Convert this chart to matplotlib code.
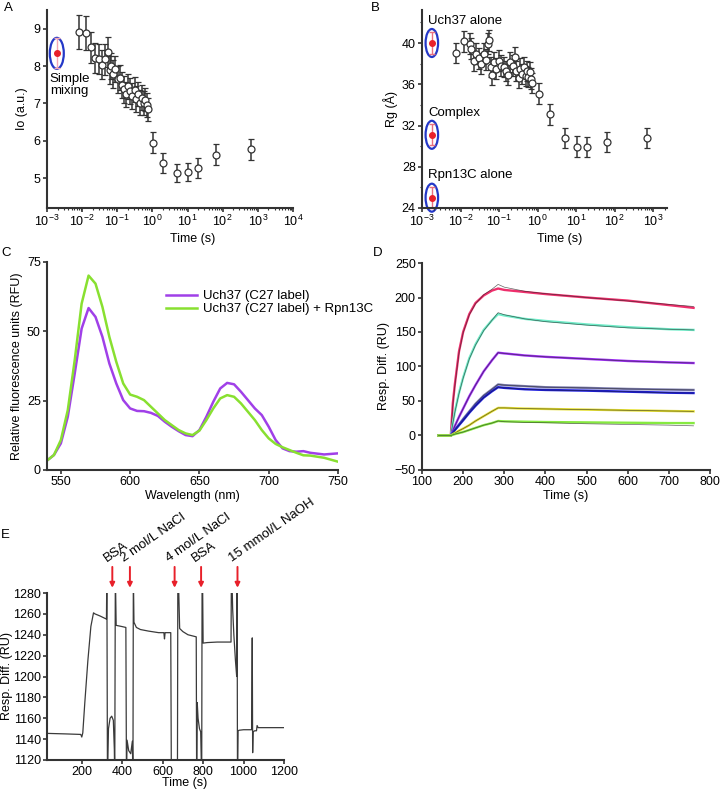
import matplotlib
matplotlib.use("Agg")
import matplotlib.pyplot as plt
from matplotlib.patches import Ellipse
from matplotlib.transforms import ScaledTranslation
from matplotlib.ticker import LogLocator, MultipleLocator, NullFormatter

plt.rcParams['font.family'] = ['Liberation Sans', 'DejaVu Sans']
plt.rcParams['font.size'] = 9

# ---- panel A: Io vs time ----
a_time = [0.0083, 0.0131, 0.0178, 0.0229, 0.0295, 0.0372, 0.0457, 0.0537, 0.0603,
          0.0676, 0.0759, 0.0871, 0.102, 0.117, 0.135, 0.158, 0.182, 0.200, 0.234,
          0.269, 0.309, 0.347, 0.398, 0.457, 0.501, 0.562, 0.631, 0.708, 0.759,
          1.04, 2.0, 5.1, 10.0, 20.0, 63.0, 620.0]
a_io = [8.91, 8.89, 8.5, 8.22, 8.2, 8.04, 8.18, 8.38, 7.9, 8.0, 7.78, 7.91, 7.64,
        7.69, 7.5, 7.38, 7.24, 7.46, 7.33, 7.2, 7.37, 7.11, 7.24, 7.02, 7.15, 7.02,
        7.1, 6.95, 6.84, 5.95, 5.41, 5.14, 5.16, 5.28, 5.63, 5.77]
a_err = [0.45, 0.45, 0.42, 0.4, 0.4, 0.38, 0.42, 0.4, 0.38, 0.36, 0.38, 0.35, 0.36,
         0.34, 0.35, 0.36, 0.34, 0.33, 0.35, 0.34, 0.33, 0.35, 0.32, 0.34, 0.33, 0.32,
         0.3, 0.32, 0.3, 0.28, 0.27, 0.25, 0.25, 0.27, 0.28, 0.28]
a_ref_time = 0.0019
a_ref_io = 8.34
a_ref_err = 0.4

# ---- panel B: Rg vs time ----
b_time = [0.00776, 0.0123, 0.0178, 0.0182, 0.0224, 0.0257, 0.0302, 0.0347, 0.0398,
          0.0447, 0.0513, 0.055, 0.0603, 0.0676, 0.0741, 0.0851, 0.1, 0.115, 0.135,
          0.155, 0.17, 0.195, 0.229, 0.257, 0.282, 0.324, 0.355, 0.407, 0.447, 0.49,
          0.537, 0.575, 0.631, 0.661, 0.724, 1.12, 2.14, 5.25, 10.7, 19.5, 64.6, 676.0]
b_rg = [39.03, 40.16, 39.94, 39.45, 38.26, 38.97, 38.5, 38.0, 38.97, 38.4, 39.94,
        40.26, 37.68, 36.9, 38.16, 37.5, 38.3, 37.8, 37.68, 37.3, 36.9, 38.16, 37.8,
        38.6, 37.3, 36.65, 37.5, 37.0, 37.68, 36.8, 37.3, 36.7, 37.2, 36.55, 36.13,
        35.1, 33.08, 30.8, 29.95, 29.9, 30.4, 30.8]
b_err = [1.0, 1.0, 1.0, 1.0, 1.0, 1.0, 1.0, 1.0, 1.0, 1.0, 1.0, 1.0, 1.0, 1.0,
         1.0, 1.0, 1.0, 1.0, 1.0, 1.0, 1.0, 1.0, 1.0, 1.0, 1.0, 1.0, 1.0, 1.0,
         1.0, 1.0, 1.0, 1.0, 1.0, 1.0, 1.0, 1.0, 1.0, 1.0, 1.0, 1.0, 1.0, 1.0]
b_ref_time = 0.0018
b_ref_rg = [40.0, 31.1, 25.0]
b_ref_err = [1.05, 1.0, 1.0]
b_ref_labels = ['Uch37 alone', 'Complex', 'Rpn13C alone']

# ---- panel C: emission spectra ----
c_wl = [540, 545, 550, 555, 560, 565, 570, 575, 580, 585, 590, 595, 600, 605, 610,
        615, 620, 625, 630, 635, 640, 645, 650, 655, 660, 665, 670, 675, 680, 685,
        690, 695, 700, 705, 710, 715, 720, 725, 730, 740, 750]
c_uch37 = [3.4, 5.4, 9.6, 19.2, 34.8, 51.0, 58.4, 55.2, 48.0, 38.4, 31.2, 25.2, 22.2,
           21.3, 21.2, 20.6, 19.5, 17.4, 15.6, 14.0, 12.6, 12.2, 14.4, 19.2, 24.6,
           29.4, 31.4, 30.9, 28.2, 25.2, 22.2, 19.8, 15.6, 10.8, 7.8, 6.8, 6.6, 6.8,
           6.2, 5.6, 6.0]
c_complex = [3.4, 5.4, 10.8, 21.6, 39.6, 60.0, 70.1, 67.2, 58.8, 48.0, 39.0, 31.2,
             27.2, 26.4, 25.2, 22.8, 20.4, 18.0, 16.2, 14.4, 13.2, 12.6, 14.2, 18.0,
             22.2, 25.8, 27.0, 26.4, 24.0, 21.0, 18.0, 14.4, 11.4, 9.4, 8.2, 7.2, 6.2,
             5.3, 5.2, 4.4, 3.0]
c_labels = ['Uch37 (C27 label)', 'Uch37 (C27 label) + Rpn13C']

# ---- panel D: SPR sensorgrams (data and fits) ----
d_time = [140, 170, 175, 180, 190, 200, 215, 230, 250, 270, 285, 300, 350, 400, 500,
          600, 700, 760]
d_c1 = [0, 0, 47, 75, 122, 150, 176, 192, 203, 210, 213, 211, 208, 205, 200, 195.5, 189, 185]
d_c1_fit = [0, 0, 45, 73, 120, 149, 175, 191, 204, 212, 219, 215, 209, 205.5, 200, 195, 190, 187]
d_c2 = [0, 0, 18, 35, 62, 84, 112, 132, 153, 167, 176, 174, 169, 166, 161, 157, 154, 153]
d_c2_fit = [0, 0, 18, 34, 61, 83, 111, 131, 152, 167, 178, 175, 169, 165, 160, 156, 154, 153]
d_c3 = [0, 0, 7, 14, 27, 39, 57, 73, 93, 109, 120, 119, 116, 114, 111, 108, 106, 105]
d_c4 = [0, 0, 4, 8.5, 16, 24, 35, 46, 58, 67, 74, 73, 71.5, 70, 69, 67.5, 66.5, 66]
d_c5 = [0, 0, 4, 8, 15, 22, 33, 43, 55, 64, 70, 69, 67, 66, 65, 63.5, 62, 61.5]
d_c6 = [0, 0, 2, 3.5, 7, 10, 15, 21, 28, 35, 40, 40, 39, 38.5, 37.5, 36.5, 35.5, 35]
d_c7 = [0, 0, 1, 2, 3.5, 5, 8, 11, 15, 18, 21, 20.5, 20, 19.5, 19, 18.5, 18, 18]
d_c7_fit = [0, 0, 1, 2, 3.5, 5, 8, 11, 15, 18, 21, 20, 19, 18.5, 17, 16, 15, 14]

# ---- panel E: regeneration sensorgram ----
e_time = [28, 120, 195, 200, 205, 215, 230, 245, 258, 265, 290, 322, 324, 327, 332,
          340, 348, 356, 361, 363, 366, 370, 395, 418, 421, 424, 432, 442, 450, 453,
          455, 458, 470, 490, 530, 580, 606, 609, 612, 640, 643, 645, 673, 675, 677,
          684, 700, 725, 766, 768, 771, 775, 782, 788, 793, 795, 797, 800, 820, 870,
          938, 940, 942, 946, 952, 960, 966, 968, 970, 973, 978, 1000, 1040, 1043,
          1045, 1047, 1055, 1064, 1067, 1072, 1100, 1210]
e_resp = [1145.5, 1145, 1144.5, 1142, 1146, 1175, 1215, 1248, 1261, 1260, 1258, 1255,
          1300, 1100, 1150, 1160, 1162, 1158, 1130, 1100, 1300, 1249, 1248, 1247,
          1100, 1139, 1129, 1126, 1138, 1100, 1300, 1252, 1247, 1245, 1243.5, 1242,
          1242, 1236, 1242, 1242, 1100, 1100, 1100, 1300, 1300, 1246, 1243, 1240,
          1238, 1100, 1175, 1160, 1150, 1147, 1100, 1300, 1300, 1232, 1232.5, 1233,
          1233, 1300, 1300, 1265, 1240, 1215, 1200, 1300, 1100, 1148, 1148.5, 1149,
          1149, 1237, 1127, 1147, 1148, 1148, 1153, 1151, 1151, 1151]
e_inject_time = [351, 438, 659, 790, 970]
e_inject_labels = ['BSA', '2 mol/L NaCl', '4 mol/L NaCl', 'BSA', '15 mmol/L NaOH']

AXIS_COLOR = '#333333'
FIG_W, FIG_H = 720, 790


def box(x0, y0, x1, y1):
    # pixel box (top-left origin) -> figure fraction rect
    return [x0 / FIG_W, 1 - y1 / FIG_H, (x1 - x0) / FIG_W, (y1 - y0) / FIG_H]


def style(ax):
    for s in ['top', 'right']:
        ax.spines[s].set_visible(False)
    for s in ['left', 'bottom']:
        ax.spines[s].set_color(AXIS_COLOR)
        ax.spines[s].set_linewidth(1.5)
    ax.tick_params(which='major', length=3, width=1.2, color=AXIS_COLOR, pad=1.5)
    ax.tick_params(which='minor', length=1.6, width=0.8, color=AXIS_COLOR)


def ring(ax, x, y, w, h):
    e = Ellipse((0, 0), w, h, fill=False, ec='#2438c8', lw=1.6, clip_on=False,
                transform=ax.figure.dpi_scale_trans + ScaledTranslation(x, y, ax.transData))
    ax.add_patch(e)


def log_axis(ax, lo, hi):
    ax.set_xscale('log')
    ax.set_xlim(lo, hi)
    ax.xaxis.set_major_locator(LogLocator(base=10, numticks=20))
    ax.xaxis.set_minor_locator(LogLocator(base=10, subs=range(2, 10), numticks=20))
    ax.xaxis.set_minor_formatter(NullFormatter())


fig = plt.figure(figsize=(7.2, 7.9), dpi=100)

# A
ax = fig.add_axes(box(47, 10, 293, 208))
style(ax)
log_axis(ax, 1e-3, 1e4)
ax.set_ylim(4.2, 9.5)
ax.yaxis.set_major_locator(MultipleLocator(1))
ax.errorbar(a_time, a_io, yerr=a_err, fmt='o', ms=5, mfc='white', mec=AXIS_COLOR,
            mew=0.9, ecolor=AXIS_COLOR, elinewidth=1.1, capsize=2.2, capthick=1)
ax.errorbar([a_ref_time], [a_ref_io], yerr=[a_ref_err], fmt='o', ms=4, color='#e8202a',
            ecolor='#f4a6b4', elinewidth=1, capsize=2)
ring(ax, a_ref_time, a_ref_io, 0.14, 0.31)
ax.annotate('Simple\nmixing', xy=(a_ref_time, a_ref_io), xytext=(-5, -23),
            textcoords='offset points', ha='left', va='center', linespacing=1.0,
            fontsize=9.5)
ax.set_ylabel('Io (a.u.)', labelpad=4)
ax.set_xlabel('Time (s)')
ax.xaxis.set_label_coords(0.593, -0.125)

# B
ax = fig.add_axes(box(422, 10, 667, 208))
style(ax)
log_axis(ax, 1e-3, 2300)
ax.set_ylim(24, 43.2)
ax.yaxis.set_major_locator(MultipleLocator(4))
ax.yaxis.set_minor_locator(MultipleLocator(2))
ax.errorbar(b_time, b_rg, yerr=b_err, fmt='o', ms=5, mfc='white', mec=AXIS_COLOR,
            mew=0.9, ecolor=AXIS_COLOR, elinewidth=1.1, capsize=2.2, capthick=1)
ax.errorbar([b_ref_time] * 3, b_ref_rg, yerr=b_ref_err, fmt='o', ms=4, color='#e8202a',
            ecolor='#e87080', elinewidth=1, capsize=2, clip_on=False)
for val, lab in zip(b_ref_rg, b_ref_labels):
    ring(ax, b_ref_time, val, 0.125, 0.28)
    ax.annotate(lab, xy=(b_ref_time, val), xytext=(-2.5, 16), textcoords='offset points',
                ha='left', va='center', fontsize=9.5, annotation_clip=False)
ax.set_ylabel('Rg (Å)', labelpad=3)
ax.set_xlabel('Time (s)')
ax.xaxis.set_label_coords(0.56, -0.125)

# C
ax = fig.add_axes(box(47, 262, 338, 470))
style(ax)
ax.plot(c_wl, c_uch37, color='#a040e8', lw=1.8, label=c_labels[0])
ax.plot(c_wl, c_complex, color='#88e030', lw=1.8, label=c_labels[1])
ax.set_xlim(540, 750)
ax.set_ylim(0, 75)
ax.xaxis.set_major_locator(MultipleLocator(50))
ax.yaxis.set_major_locator(MultipleLocator(25))
ax.legend(loc='upper left', bbox_to_anchor=(0.39, 0.89), frameon=False, handlelength=2.4,
          borderaxespad=0, labelspacing=0.05, handletextpad=0.4, fontsize=9.5)
ax.set_ylabel('Relative fluorescence units (RFU)', labelpad=3)
ax.set_xlabel('Wavelength (nm)', labelpad=1)

# D
ax = fig.add_axes(box(422, 263, 710, 470))
style(ax)
d_series = [(d_c1, d_c1_fit, '#ee2f6c'), (d_c2, d_c2_fit, '#6fecc8'),
            (d_c3, d_c3, '#a030f8'), (d_c4, d_c4, '#7c7cb0'), (d_c5, d_c5, '#1c1ce0'),
            (d_c6, d_c6, '#e6e030'), (d_c7, d_c7_fit, '#86ea40')]
for data, fit, col in d_series:
    ax.plot(d_time, data, color=col, lw=1.7)
    ax.plot(d_time, fit, color='#222222', lw=0.5, alpha=0.7)
ax.set_xlim(100, 800)
ax.set_ylim(-50, 250)
ax.xaxis.set_major_locator(MultipleLocator(100))
ax.yaxis.set_major_locator(MultipleLocator(50))
ax.set_ylabel('Resp. Diff. (RU)', labelpad=3)
ax.set_xlabel('Time (s)', labelpad=1)

# E
ax = fig.add_axes(box(47, 593, 284, 760))
style(ax)
ax.plot(e_time, e_resp, color='#3a3a3a', lw=0.9)
ax.set_xlim(28, 1200)
ax.set_ylim(1120, 1280)
ax.set_xticks([200, 400, 600, 800, 1000, 1200])
ax.yaxis.set_major_locator(MultipleLocator(20))
for t, lab in zip(e_inject_time, e_inject_labels):
    ax.annotate('', xy=(t, 1285), xytext=(t, 1305), annotation_clip=False,
                arrowprops=dict(arrowstyle='-|>', color='#e8202a', lw=1.4,
                                mutation_scale=7, shrinkA=0, shrinkB=0))
    ax.annotate(lab, xy=(t, 1305), xytext=(-3, 1.5), textcoords='offset points',
                rotation=35, rotation_mode='anchor', ha='left', va='bottom',
                fontsize=9.5, annotation_clip=False)
ax.set_ylabel('Resp. Diff. (RU)')
ax.yaxis.set_label_coords(-0.145, 0.5)
ax.set_xlabel('Time (s)', labelpad=1)
ax.xaxis.set_label_coords(0.58, -0.1)

for lab, x, y in [('A', 8, 8), ('B', 375, 8), ('C', 6, 253), ('D', 378, 253), ('E', 5, 535)]:
    fig.text(x / FIG_W, 1 - y / FIG_H, lab, fontsize=9.5, ha='center', va='center')

fig.savefig('out.png', dpi=100)
